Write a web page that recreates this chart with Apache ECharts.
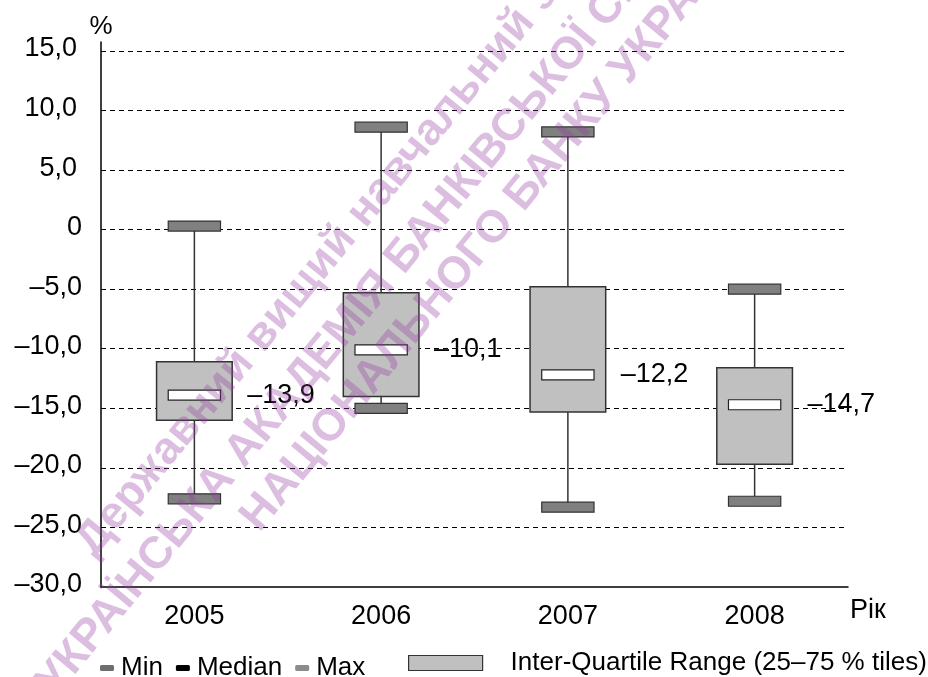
<!DOCTYPE html>
<html><head><meta charset="utf-8">
<script src="https://cdn.jsdelivr.net/npm/echarts@6/dist/echarts.min.js"></script>
<style>html,body{margin:0;padding:0;background:#fff}#c{width:928px;height:677px}</style>
</head><body><div id="c"></div>
<script>
// ---- data ----
const categories = ['2005', '2006', '2007', '2008'];
const minVals    = [-22.6, -15.0, -23.3, -22.8];
const q1Vals     = [-16.0, -14.0, -15.3, -19.7];
const medianVals = [-13.9, -10.1, -12.2, -14.7];
const q3Vals     = [-11.1,  -5.3,  -4.8, -11.6];
const maxVals    = [  0.3,   8.6,   8.2,  -5.0];
const yTicks     = [-30, -25, -20, -15, -10, -5, 0, 5, 10, 15];
const IQR_NAME = 'Inter-Quartile Range (25–75 % tiles)';
const watermarkLines = [
  'Державний вищий навчальний заклад',
  'УКРАЇНСЬКА АКАДЕМІЯ БАНКІВСЬКОЇ СПРАВИ',
  'НАЦІОНАЛЬНОГО БАНКУ УКРАЇНИ'
];

// pick a narrow font if one is installed
function fontAvailable(name) {
  const c = document.createElement('canvas').getContext('2d');
  const s = 'abcdefghij0123456789';
  c.font = '100px monospace';
  const base = c.measureText(s).width;
  c.font = "100px '" + name + "', monospace";
  return c.measureText(s).width !== base;
}
let FONT, FS, LFS;
if (fontAvailable('Liberation Sans Narrow')) {
  FONT = "'Liberation Sans Narrow', sans-serif"; FS = 30; LFS = 30;
} else if (fontAvailable('Arial Narrow')) {
  FONT = "'Arial Narrow', sans-serif"; FS = 30; LFS = 30;
} else {
  FONT = "'Liberation Sans', Arial, sans-serif"; FS = 27; LFS = 26;
}

function fmt(v) {
  if (v === 0) return '0';
  return (v < 0 ? '–' : '') + Math.abs(v).toFixed(1).replace('.', ',');
}

const chart = echarts.init(document.getElementById('c'), null, {renderer: 'canvas'});

const boxData = categories.map((c, i) => [i, minVals[i], q1Vals[i], medianVals[i], q3Vals[i], maxVals[i]]);

function renderItem(params, api) {
  const idx = api.value(0);
  const xc = api.coord([idx, 0])[0];
  const band = api.size([1, 0])[0];
  const yMin = api.coord([idx, api.value(1)])[1];
  const yQ1 = api.coord([idx, api.value(2)])[1];
  const yMed = api.coord([idx, api.value(3)])[1];
  const yQ3 = api.coord([idx, api.value(4)])[1];
  const yMax = api.coord([idx, api.value(5)])[1];
  const boxW = band * 0.405;
  const capW = band * 0.28;
  const capH = 10;
  return {
    type: 'group',
    children: [
      {type: 'line', shape: {x1: xc, y1: yMax, x2: xc, y2: yMin}, style: {stroke: '#333', lineWidth: 1.5}},
      {type: 'rect', shape: {x: xc - boxW / 2, y: yQ3, width: boxW, height: yQ1 - yQ3},
        style: {fill: '#c0c0c0', stroke: '#333', lineWidth: 1.5}},
      {type: 'rect', shape: {x: xc - capW / 2, y: yMax - capH / 2, width: capW, height: capH},
        style: {fill: '#808080', stroke: '#333', lineWidth: 1.2}},
      {type: 'rect', shape: {x: xc - capW / 2, y: yMin - capH / 2, width: capW, height: capH},
        style: {fill: '#808080', stroke: '#333', lineWidth: 1.2}},
      {type: 'rect', shape: {x: xc - capW / 2, y: yMed - capH / 2, width: capW, height: capH},
        style: {fill: '#ffffff', stroke: '#222', lineWidth: 1.2}},
      {type: 'text', x: xc + boxW / 2 + 15, y: yMed,
        style: {text: fmt(api.value(3)), fill: '#000', fontSize: FS, fontFamily: FONT,
          align: 'left', verticalAlign: 'middle'}}
    ]
  };
}

const rot = 50.5 * Math.PI / 180;
const wmPos = [[85, 550], [46, 690], [250, 525]];
const wmStyle = {fill: 'rgba(150,60,160,0.33)', fontSize: 45, fontWeight: 'bold', fontFamily: "'Liberation Sans', sans-serif",
  align: 'left', verticalAlign: 'middle'};

chart.setOption({
  animation: false,
  backgroundColor: '#fff',
  grid: {left: 101, right: 80, top: 42, bottom: 90, containLabel: false},
  xAxis: {
    type: 'category', data: categories, boundaryGap: true,
    name: 'Рік', nameLocation: 'end', nameGap: 2,
    nameTextStyle: {fontSize: FS, fontFamily: FONT, color: '#000', verticalAlign: 'top', lineHeight: 48},
    axisLine: {onZero: false, lineStyle: {color: '#000', width: 1.5}},
    axisTick: {show: false},
    axisLabel: {margin: 16, fontSize: FS, color: '#000', fontFamily: FONT},
    splitLine: {show: false}
  },
  yAxis: {
    type: 'value', min: -30, max: 15.75, interval: 5,
    name: '%', nameLocation: 'end', nameGap: 2,
    nameTextStyle: {fontSize: LFS, fontFamily: FONT, color: '#000', align: 'center'},
    axisLine: {show: true, lineStyle: {color: '#000', width: 1.5}},
    axisTick: {show: false},
    axisLabel: {
      margin: 19, color: '#000', fontSize: FS, fontFamily: FONT, padding: [0, 0, 4, 0],
      showMaxLabel: false,
      formatter: v => {
        if (yTicks.indexOf(v) < 0) return '';
        return v > 0 ? '{p|' + fmt(v) + '}' : '{n|' + fmt(v) + '}';
      },
      rich: {
        p: {fontSize: FS, fontFamily: FONT, color: '#000', padding: [0, 5, 0, 0]},
        n: {fontSize: FS, fontFamily: FONT, color: '#000'}
      }
    },
    splitLine: {show: true, showMinLine: false, showMaxLine: false,
      lineStyle: {color: '#000', type: [5, 4], width: 1}}
  },
  legend: [
    {
      data: [{name: 'Min', icon: 'roundRect'}, {name: 'Median', icon: 'roundRect'}, {name: 'Max', icon: 'roundRect'}],
      left: 100, top: 655, itemWidth: 14, itemHeight: 6, itemGap: 13, selectedMode: false, padding: 0,
      textStyle: {fontSize: LFS, fontFamily: FONT, color: '#000', padding: [0, 0, 0, 2]}
    },
    {
      data: [{name: IQR_NAME, icon: 'rect', itemStyle: {color: '#c0c0c0', borderColor: '#333', borderWidth: 1.2}}],
      left: 408, top: 650, itemWidth: 74, itemHeight: 15, selectedMode: false, padding: 0,
      textStyle: {fontSize: LFS, fontFamily: FONT, color: '#000', padding: [0, 0, 0, 23]}
    }
  ],
  series: [
    {type: 'line', name: 'Min', data: [], itemStyle: {color: '#6e6e6e'}, lineStyle: {color: '#6e6e6e'}},
    {type: 'line', name: 'Median', data: [], itemStyle: {color: '#000'}, lineStyle: {color: '#000'}},
    {type: 'line', name: 'Max', data: [], itemStyle: {color: '#8c8c8c'}, lineStyle: {color: '#8c8c8c'}},
    {
      type: 'custom', name: IQR_NAME, data: boxData, z: 3,
      itemStyle: {color: '#c0c0c0'},
      encode: {x: 0, y: [1, 2, 3, 4, 5]},
      renderItem: renderItem
    }
  ],
  graphic: watermarkLines.map((t, i) => ({
    type: 'text', x: wmPos[i][0], y: wmPos[i][1], rotation: rot, z: 100, silent: true,
    style: Object.assign({text: t}, wmStyle)
  }))
});
</script>
</body></html>
